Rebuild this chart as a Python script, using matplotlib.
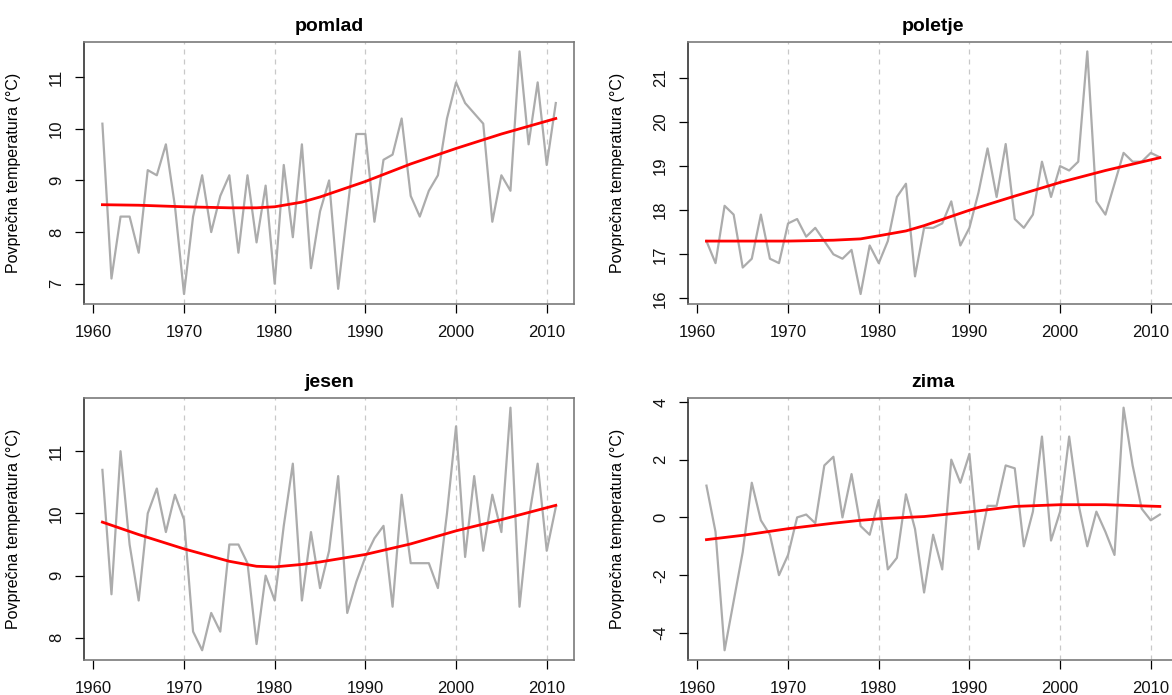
import matplotlib.pyplot as plt

plt.rcParams['font.family'] = ['Liberation Sans', 'DejaVu Sans']

years = list(range(1961, 2012))

pomlad = [10.1, 7.1, 8.3, 8.3, 7.6, 9.2, 9.1, 9.7, 8.5, 6.8,
          8.3, 9.1, 8.0, 8.7, 9.1, 7.6, 9.1, 7.8, 8.9, 7.0,
          9.3, 7.9, 9.7, 7.3, 8.4, 9.0, 6.9, 8.4, 9.9, 9.9,
          8.2, 9.4, 9.5, 10.2, 8.7, 8.3, 8.8, 9.1, 10.2, 10.9,
          10.5, 10.3, 10.1, 8.2, 9.1, 8.8, 11.5, 9.7, 10.9, 9.3,
          10.5]

poletje = [17.3, 16.8, 18.1, 17.9, 16.7, 16.9, 17.9, 16.9, 16.8, 17.7,
           17.8, 17.4, 17.6, 17.3, 17.0, 16.9, 17.1, 16.1, 17.2, 16.8,
           17.3, 18.3, 18.6, 16.5, 17.6, 17.6, 17.7, 18.2, 17.2, 17.6,
           18.4, 19.4, 18.3, 19.5, 17.8, 17.6, 17.9, 19.1, 18.3, 19.0,
           18.9, 19.1, 21.6, 18.2, 17.9, 18.6, 19.3, 19.1, 19.1, 19.3,
           19.2]

jesen = [10.7, 8.7, 11.0, 9.5, 8.6, 10.0, 10.4, 9.7, 10.3, 9.9,
         8.1, 7.8, 8.4, 8.1, 9.5, 9.5, 9.2, 7.9, 9.0, 8.6,
         9.8, 10.8, 8.6, 9.7, 8.8, 9.4, 10.6, 8.4, 8.9, 9.3,
         9.6, 9.8, 8.5, 10.3, 9.2, 9.2, 9.2, 8.8, 10.0, 11.4,
         9.3, 10.6, 9.4, 10.3, 9.7, 11.7, 8.5, 9.9, 10.8, 9.4,
         10.1]

zima = [1.1, -0.5, -4.6, -2.9, -1.2, 1.2, -0.1, -0.6, -2.0, -1.3,
        0.0, 0.1, -0.2, 1.8, 2.1, 0.0, 1.5, -0.3, -0.6, 0.6,
        -1.8, -1.4, 0.8, -0.4, -2.6, -0.6, -1.8, 2.0, 1.2, 2.2,
        -1.1, 0.4, 0.4, 1.8, 1.7, -1.0, 0.2, 2.8, -0.8, 0.2,
        2.8, 0.5, -1.0, 0.2, -0.5, -1.3, 3.8, 1.8, 0.3, -0.1,
        0.1]

# smoothed trend
trend_years = [1961, 1965, 1970, 1975, 1978, 1980, 1983, 1985, 1990, 1995, 2000, 2005, 2011]
pomlad_trend = [8.53, 8.52, 8.49, 8.47, 8.47, 8.49, 8.58, 8.68, 8.98, 9.32, 9.62, 9.90, 10.20]
poletje_trend = [17.30, 17.30, 17.30, 17.32, 17.35, 17.42, 17.53, 17.65, 18.00, 18.32, 18.63, 18.90, 19.19]
jesen_trend = [9.86, 9.66, 9.43, 9.23, 9.15, 9.14, 9.18, 9.22, 9.34, 9.51, 9.72, 9.90, 10.13]
zima_trend = [-0.77, -0.62, -0.39, -0.20, -0.10, -0.05, 0.0, 0.03, 0.19, 0.38, 0.44, 0.44, 0.38]

titles = ['pomlad', 'poletje', 'jesen', 'zima']
series = [pomlad, poletje, jesen, zima]
trends = [pomlad_trend, poletje_trend, jesen_trend, zima_trend]
yticks = [[7, 8, 9, 10, 11], [16, 17, 18, 19, 20, 21], [8, 9, 10, 11], [-4, -2, 0, 2, 4]]
xticks = [1960, 1970, 1980, 1990, 2000, 2010]
decades = [1970, 1980, 1990, 2000, 2010]

positions = [[0.0719, 0.563, 0.4178, 0.377],
             [0.5873, 0.563, 0.4178, 0.377],
             [0.0719, 0.0504, 0.4178, 0.377],
             [0.5873, 0.0504, 0.4178, 0.377]]

fig = plt.figure(figsize=(11.72, 6.95), dpi=100)

for pos, title, values, trend, yt in zip(positions, titles, series, trends, yticks):
    ax = fig.add_axes(pos)
    for d in decades:
        ax.axvline(d, color='#c8c8c8', linestyle=(0, (4, 4)), linewidth=0.9, zorder=1)
    ax.plot(years, values, color='#acacac', linewidth=1.6, zorder=2)
    ax.plot(trend_years, trend, color='red', linewidth=2.0, zorder=3)

    ax.set_xlim(1959, 2013)
    ax.margins(y=0.04)
    ax.set_xticks(xticks)
    ax.set_yticks(yt)
    ax.set_yticklabels([str(v) for v in yt], rotation=90, va='center')

    ax.set_title(title, fontsize=14, fontweight='bold', pad=8)
    ax.set_ylabel('Povprečna temperatura (°C)', fontsize=11.5)
    ax.yaxis.set_label_coords(-0.13, 0.5)

    ax.tick_params(direction='out', length=6.5, width=0.9, color='black',
                   labelsize=12, labelcolor='#111111')
    ax.tick_params(axis='x', pad=9)
    ax.tick_params(axis='y', pad=8)

    for side in ['top', 'right', 'bottom']:
        ax.spines[side].set_color('#7a7a7a')
        ax.spines[side].set_linewidth(1.2)
    ax.spines['left'].set_color('#222222')
    ax.spines['left'].set_linewidth(1.1)

fig.savefig('out.png', dpi=100)
plt.close(fig)
